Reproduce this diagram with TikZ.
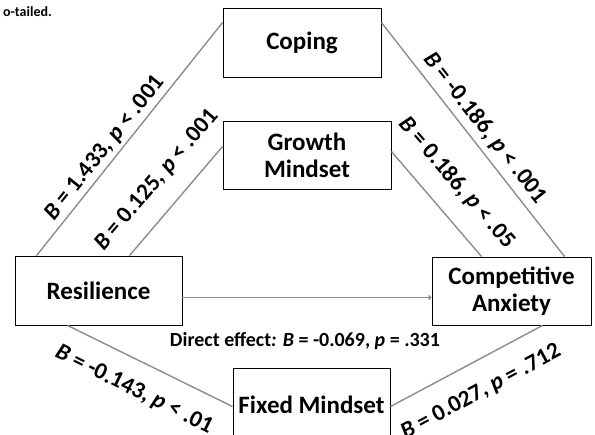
\documentclass[tikz,border=0pt]{standalone}
\usepackage{fontspec}
\setmainfont{Carlito}
\usetikzlibrary{calc,arrows.meta}
\tikzset{
  box/.style={draw=black, line width=0.9pt, rectangle, align=center, font=\fontsize{25}{27}\selectfont\bfseries, inner sep=0pt},
  conn/.style={draw=black!45, line width=1.4pt},
  lab/.style={font=\fontsize{23.5}{26}\selectfont\bfseries, inner sep=0pt},
}
\newcommand{\ib}{\textit{B}}
\newcommand{\ip}{\textit{p}}
\begin{document}
\begin{tikzpicture}[x=1pt,y=-1pt]
\useasboundingbox (0,0) rectangle (595,435);
\clip (0,0) rectangle (595,435);
\node[font=\fontsize{14}{16}\selectfont\bfseries, anchor=east, inner sep=0pt] (note) at (52,12) {o-tailed.};
\node[box, minimum width=158pt, minimum height=69pt] (cop) at (302,42.5) {Coping};
\node[box, minimum width=168pt, minimum height=68pt] (gro) at (307,155) {Growth\\Mindset};
\node[box, minimum width=167pt, minimum height=69pt] (res) at (98.5,290.5) {Resilience};
\node[box, minimum width=159pt, minimum height=68pt] (ca) at (511.5,291) {Competitive\\Anxiety};
\node[box, minimum width=157pt, minimum height=74pt] (fix) at (311.5,405) {Fixed Mindset};
\coordinate (r1) at ($(res.north west)+(22,0)$);
\coordinate (r2) at ($(res.north west)+(115,0)$);
\coordinate (c1) at ($(cop.north west)+(0,15)$);
\coordinate (c2) at ($(cop.north east)+(0,15)$);
\coordinate (g1) at ($(gro.north west)+(0,26)$);
\coordinate (g2) at ($(gro.north east)+(0,31)$);
\coordinate (a1) at ($(ca.north west)+(133,0)$);
\coordinate (a2) at ($(ca.north west)+(50,0)$);
\coordinate (r3) at ($(res.north east)+(0,42)$);
\coordinate (a3) at ($(ca.north west)+(0,41)$);
\coordinate (r4) at ($(res.south west)+(53,0)$);
\coordinate (f1) at ($(fix.north west)+(0,39)$);
\coordinate (f2) at ($(fix.north east)+(0,39)$);
\coordinate (a4) at ($(ca.south west)+(111,0)$);
\draw[conn] (r1) -- (c1);
\draw[conn] (r2) -- (g1);
\draw[conn] (c2) -- (a1);
\draw[conn] (g2) -- (a2);
\draw[conn, -{Straight Barb[length=2pt,width=4pt]}] (r3) -- (a3);
\draw[conn] (r4) -- (f1);
\draw[conn] (f2) -- (a4);
\node[lab, rotate=51.4] (l1) at (105,148) {\ib{} = 1.433, \ip{} < .001};
\node[lab, rotate=49.5] (l2) at (157,180) {\ib{} = 0.125, \ip{} < .001};
\node[lab, rotate=-51.8] (l3) at (485,128) {\ib{} = -0.186, \ip{} < .001};
\node[lab, rotate=-49] (l4) at (457,183) {\ib{} = 0.186, \ip{} < .05};
\node[lab, rotate=-26.4] (l5) at (134,390) {\ib{} = -0.143, \ip{} < .01};
\node[lab, rotate=28.2] (l6) at (481,392) {\ib{} = 0.027, \ip{} = .712};
\node[font=\fontsize{20}{22}\selectfont\bfseries, inner sep=0pt] (de) at (305,341) {Direct effect\textit{:} \ib{} = -0.069, \ip{} = .331};
\end{tikzpicture}
\end{document}
